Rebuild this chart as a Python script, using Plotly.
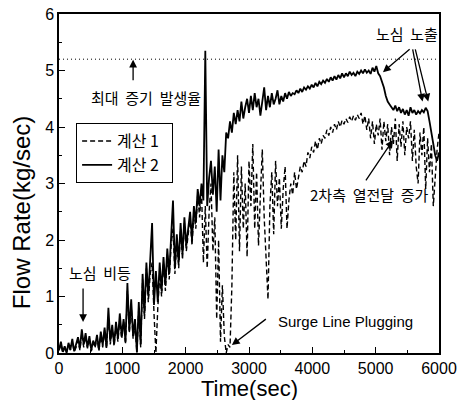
import plotly.graph_objects as go

# sampling grid (s)
time_sec = list(range(0, 6001, 30))

# 계산 2 (solid)
calc2 = [
    0.05,0.20,0.02,0.12,0.00,0.18,0.06,0.25,0.03,0.15,
    0.28,0.08,0.42,0.15,0.35,0.10,0.30,0.05,0.22,0.12,
    0.32,0.06,0.38,0.14,0.45,0.10,0.80,0.20,0.50,0.15,
    0.55,0.25,0.70,0.30,0.60,0.20,1.24,0.40,0.95,0.30,
    0.60,0.02,0.90,0.15,1.40,0.70,1.60,1.00,1.55,2.30,
    0.85,1.45,0.90,1.60,1.10,1.70,1.20,1.85,1.40,1.95,
    2.70,1.50,2.10,1.60,2.30,1.75,2.40,1.90,2.20,2.50,
    2.00,2.60,2.30,2.90,2.60,3.00,2.70,5.35,2.60,3.10,
    3.40,2.80,3.30,2.50,3.60,2.70,3.50,3.20,3.90,3.80,
    4.10,3.90,4.25,4.05,4.30,4.10,4.45,4.15,4.35,4.50,
    4.25,4.55,4.30,4.60,4.35,4.50,4.20,4.45,4.70,4.30,
    4.55,4.35,4.60,4.40,4.50,4.65,4.40,4.55,4.45,4.60,
    4.50,4.62,4.55,4.60,4.58,4.65,4.60,4.68,4.62,4.70,
    4.66,4.72,4.68,4.75,4.70,4.78,4.72,4.80,4.76,4.82,
    4.78,4.85,4.80,4.88,4.82,4.90,4.84,4.92,4.86,4.95,
    4.88,4.95,4.90,4.98,4.92,4.96,4.90,4.98,4.94,5.00,
    4.95,5.02,4.96,5.00,4.94,5.05,4.98,5.08,4.95,4.90,
    4.80,4.70,4.55,4.45,4.40,4.35,4.30,4.38,4.28,4.35,
    4.25,4.32,4.22,4.30,4.20,4.35,4.25,4.30,4.22,4.28,
    4.24,4.30,4.26,4.34,4.28,4.10,3.90,3.65,3.50,3.40,
    3.55,
]

# 계산 1 (dashed)
calc1 = [
    0.05,0.15,0.00,0.10,0.02,0.12,0.05,0.20,0.02,0.10,
    0.22,0.05,0.35,0.10,0.30,0.08,0.25,0.03,0.18,0.10,
    0.28,0.04,0.30,0.10,0.40,0.08,0.65,0.15,0.45,0.12,
    0.50,0.20,0.60,0.25,0.55,0.15,1.10,0.35,0.85,0.25,
    0.50,0.00,0.80,0.10,1.30,0.60,1.50,0.90,1.40,1.60,
    0.70,0.00,0.80,1.40,1.00,1.60,1.10,1.75,1.30,1.90,
    2.20,1.40,2.00,1.50,2.20,1.65,2.30,1.80,2.10,2.40,
    1.90,2.50,2.20,2.80,2.40,2.90,1.60,2.60,1.50,2.50,
    3.00,1.80,2.40,0.60,2.00,0.20,1.20,0.30,0.00,0.15,
    0.10,1.20,3.20,2.00,3.50,1.80,3.30,2.20,3.00,1.70,
    3.40,2.60,3.70,2.20,3.20,1.90,2.80,3.60,2.40,1.50,
    0.95,2.60,3.20,2.10,3.40,2.60,3.10,2.20,2.90,3.30,
    2.20,2.70,3.00,2.80,3.20,2.90,3.10,3.30,3.20,3.40,
    3.30,3.55,3.45,3.65,3.55,3.75,3.60,3.80,3.70,3.85,
    3.80,3.95,3.85,4.00,3.90,4.05,3.95,4.10,4.00,4.12,
    4.05,4.15,4.08,4.18,4.10,4.20,4.12,4.22,4.15,4.25,
    4.05,4.20,3.95,4.15,3.80,4.10,3.70,4.05,3.85,4.15,
    3.60,4.10,3.75,4.05,3.50,4.00,3.70,4.15,3.40,4.05,
    3.65,4.10,3.50,4.00,3.80,4.10,3.40,3.95,3.30,3.00,
    3.90,3.50,4.00,2.90,3.80,3.20,3.70,2.60,3.10,3.60,
    3.90,
]

max_steam = 5.2
x_range = [0, 6000]
y_range = [0, 6]
x_ticks = [0, 1000, 2000, 3000, 4000, 5000, 6000]
y_ticks = [0, 1, 2, 3, 4, 5, 6]

FONT = "Liberation Sans, Arial, Noto Sans CJK KR"
KFONT = "Noto Sans CJK KR, Liberation Sans"

fig = go.Figure()
fig.add_trace(go.Scatter(x=time_sec, y=calc1, mode="lines", name="계산 1  ",
                         line=dict(color="black", width=1.4, dash="5px,3px")))
fig.add_trace(go.Scatter(x=time_sec, y=calc2, mode="lines", name="계산 2  ",
                         line=dict(color="black", width=1.8)))
fig.add_trace(go.Scatter(x=x_range, y=[max_steam, max_steam], mode="lines",
                         showlegend=False, line=dict(color="black", width=1, dash="1px,3px")))

def arrow(x, y, ax, ay):
    fig.add_annotation(x=x, y=y, ax=ax, ay=ay, xref="x", yref="y", axref="x", ayref="y",
                       text="", showarrow=True, arrowhead=2, arrowsize=1.2, arrowwidth=1.3,
                       arrowcolor="black")

def label(x, y, t, size=15, fam=KFONT):
    fig.add_annotation(x=x, y=y, xref="x", yref="y", text=t, showarrow=False,
                       font=dict(family=fam, size=size, color="black"))

label(1375, 4.53, "최대  증기  발생율")
arrow(1170, 5.19, 1170, 4.80)
label(5500, 5.66, "노심  노출")
arrow(5115, 4.97, 5560, 5.40)
arrow(5740, 4.45, 5580, 5.40)
arrow(5830, 4.45, 5620, 5.40)
label(4895, 2.80, "2차측  열전달  증가")
arrow(5275, 3.77, 4830, 3.03)
label(4530, 0.55, "Surge Line Plugging", size=15, fam=FONT)
arrow(2730, 0.14, 3290, 0.62)
label(640, 1.43, "노심  비등")
arrow(380, 0.55, 380, 1.17)

# axis titles placed as text (positions match the reference)
fig.add_annotation(x=-0.097, y=0.413, xref="paper", yref="paper", text="Flow Rate(kg/sec)",
                   textangle=-90, showarrow=False, xanchor="center", yanchor="middle",
                   font=dict(family=FONT, size=24, color="black"))
fig.add_annotation(x=0.5, y=-0.106, xref="paper", yref="paper", text="Time(sec)",
                   showarrow=False, xanchor="center", yanchor="middle",
                   height=23, borderpad=0, valign="middle",
                   font=dict(family=FONT, size=22, color="black"))

axis_common = dict(showline=True, linecolor="black", linewidth=1.5, mirror=True,
                   ticks="inside", ticklen=6, tickwidth=1.3, tickcolor="black",
                   showgrid=False, zeroline=False, automargin=False,
                   tickfont=dict(family=FONT, size=16, color="black"))

fig.update_xaxes(range=x_range, tickvals=x_ticks,
                 minor=dict(ticks="inside", ticklen=3, tickwidth=1.2, tickcolor="black", dtick=500),
                 **axis_common)
fig.update_yaxes(range=y_range, tickvals=y_ticks,
                 minor=dict(ticks="inside", ticklen=3, tickwidth=1.2, tickcolor="black", dtick=0.5),
                 **axis_common)

fig.update_layout(
    width=458, height=401,
    margin=dict(l=59, r=19, t=14, b=48),
    plot_bgcolor="white", paper_bgcolor="white",
    legend=dict(x=0.045, y=0.678, xanchor="left", yanchor="top",
                bordercolor="black", borderwidth=1, bgcolor="white",
                font=dict(family=KFONT, size=16, color="black"),
                tracegroupgap=0, itemwidth=30),
)

fig.write_html("out.html")
